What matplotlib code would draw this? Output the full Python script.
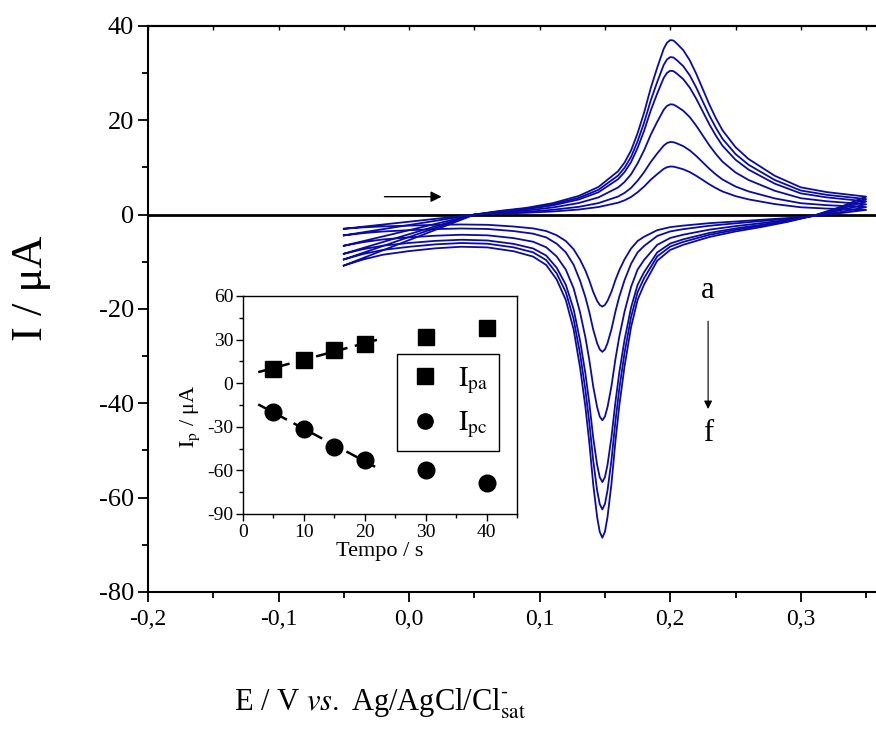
import numpy as np
import matplotlib
matplotlib.use('Agg')
import matplotlib.pyplot as plt
from matplotlib.ticker import MultipleLocator
from matplotlib.lines import Line2D

plt.rcParams['font.family'] = ['Liberation Serif', 'DejaVu Serif']
plt.rcParams['mathtext.fontset'] = 'stix'
plt.rcParams['axes.unicode_minus'] = False

# potential grids (V) for the anodic (forward) and cathodic (reverse) sweeps
e_fwd = [-0.05, -0.03, -0.01, 0.01, 0.03, 0.05, 0.07, 0.09, 0.11, 0.13, 0.145,
         0.16, 0.165, 0.17, 0.175, 0.18, 0.185, 0.19, 0.195, 0.1975, 0.20, 0.2025, 0.205,
         0.21, 0.215, 0.22, 0.225, 0.23, 0.235, 0.24, 0.25, 0.26, 0.28, 0.30, 0.32, 0.35]
e_rev = [0.35, 0.33, 0.31, 0.29, 0.27, 0.25, 0.23, 0.21, 0.20, 0.19, 0.18, 0.175,
         0.17, 0.165, 0.161, 0.158, 0.155, 0.152, 0.150, 0.148, 0.146, 0.144,
         0.141, 0.138, 0.135, 0.131, 0.126, 0.12, 0.113, 0.105, 0.095, 0.08,
         0.06, 0.04, 0.02, 0.0, -0.02, -0.035, -0.05]

# current (uA), curves a..f
i_fwd_a = [-3.0, -2.4, -1.8, -1.2, -0.6, 0.0, 0.22, 0.39, 0.66, 1.08, 1.61, 2.52, 3.03, 3.74,
           4.75, 5.96, 7.38, 8.58, 9.7, 10.05, 10.2, 10.17, 10.0, 9.61, 9.01, 8.21, 7.32,
           6.41, 5.62, 4.91, 3.92, 3.23, 2.24, 1.56, 1.28, 1.0]
i_fwd_b = [-4.4, -3.52, -2.64, -1.76, -0.88, 0.0, 0.34, 0.6, 1.02, 1.65, 2.44, 3.83, 4.6, 5.67,
           7.19, 9.01, 11.13, 12.96, 14.63, 15.17, 15.4, 15.35, 15.11, 14.51, 13.61, 12.41,
           11.06, 9.7, 8.5, 7.45, 5.96, 4.92, 3.44, 2.42, 2.0, 1.6]
i_fwd_c = [-6.6, -5.28, -3.96, -2.64, -1.32, 0.0, 0.5, 0.89, 1.51, 2.46, 3.65, 5.75, 6.92, 8.55,
           10.87, 13.65, 16.89, 19.67, 22.23, 23.04, 23.39, 23.32, 22.94, 22.02, 20.65,
           18.81, 16.74, 14.67, 12.83, 11.23, 8.94, 7.34, 5.06, 3.48, 2.83, 2.2]
i_fwd_d = [-8.3, -6.64, -4.98, -3.32, -1.66, 0.0, 0.65, 1.15, 1.95, 3.21, 4.74, 7.5, 9.01, 11.13,
           14.16, 17.79, 22.02, 25.66, 28.98, 30.05, 30.5, 30.41, 29.91, 28.71, 26.91,
           24.52, 21.82, 19.11, 16.71, 14.61, 11.63, 9.54, 6.57, 4.5, 3.65, 2.81]
i_fwd_e = [-9.5, -7.6, -5.7, -3.8, -1.9, 0.0, 0.73, 1.28, 2.17, 3.56, 5.26, 8.27, 9.92, 12.24,
           15.55, 19.51, 24.14, 28.11, 31.74, 32.9, 33.4, 33.31, 32.76, 31.46, 29.5, 26.89,
           23.94, 21.0, 18.39, 16.09, 12.84, 10.57, 7.35, 5.11, 4.19, 3.3]
i_fwd_f = [-10.8, -8.64, -6.48, -4.32, -2.16, 0.0, 0.81, 1.44, 2.43, 3.97, 5.86, 9.19, 11.03,
           13.6, 17.26, 21.64, 26.76, 31.14, 35.16, 36.44, 37.0, 36.9, 36.29, 34.86, 32.69,
           29.81, 26.56, 23.31, 20.42, 17.89, 14.3, 11.79, 8.24, 5.78, 4.77, 3.81]

i_rev_a = [1.0, 0.3, -0.3, -0.73, -1.09, -1.46, -1.81, -2.33, -2.65, -3.3, -4.69, -5.59, -7.19,
           -9.48, -11.77, -13.88, -16.33, -18.26, -19.14, -19.5, -19.15, -18.29, -16.38,
           -13.95, -11.85, -9.59, -7.34, -5.59, -4.37, -3.48, -2.92, -2.52, -2.16, -2.09,
           -2.17, -2.33, -2.5, -2.7, -3.0]
i_rev_b = [1.6, 0.53, -0.28, -0.88, -1.36, -1.85, -2.36, -3.08, -3.56, -4.53, -6.64, -8.0,
           -10.42, -13.9, -17.37, -20.57, -24.3, -27.22, -28.56, -29.1, -28.57, -27.26,
           -24.36, -20.65, -17.48, -14.05, -10.63, -7.99, -6.16, -4.83, -4.04, -3.49, -3.04,
           -2.94, -3.07, -3.3, -3.58, -3.92, -4.4]
i_rev_c = [2.2, 0.9, -0.25, -1.1, -1.8, -2.44, -3.19, -4.25, -4.95, -6.41, -9.6, -11.65,
           -15.32, -20.58, -25.84, -30.68, -36.33, -40.76, -42.79, -43.6, -42.81, -40.81,
           -36.41, -30.8, -26.0, -20.8, -15.62, -11.64, -8.87, -6.92, -5.75, -4.98, -4.39,
           -4.27, -4.47, -4.82, -5.26, -5.83, -6.6]
i_rev_d = [2.8, 1.18, -0.23, -1.29, -2.14, -2.93, -3.88, -5.23, -6.12, -8.02, -12.19, -14.88,
           -19.68, -26.57, -33.45, -39.8, -47.17, -52.99, -55.64, -56.7, -55.66, -53.05,
           -47.27, -39.93, -33.65, -26.84, -20.05, -14.85, -11.24, -8.68, -7.18, -6.2, -5.48,
           -5.33, -5.57, -6.01, -6.58, -7.32, -8.3]
i_rev_e = [3.3, 1.38, -0.22, -1.4, -2.37, -3.23, -4.28, -5.78, -6.77, -8.86, -13.46, -16.43,
           -21.72, -29.3, -36.89, -43.87, -52.01, -58.41, -61.33, -62.5, -61.36, -58.47,
           -52.12, -44.03, -37.11, -29.61, -22.14, -16.41, -12.45, -9.64, -8.0, -6.94, -6.17,
           -6.02, -6.31, -6.82, -7.48, -8.34, -9.5]
i_rev_f = [3.8, 1.6, -0.2, -1.53, -2.62, -3.57, -4.74, -6.39, -7.48, -9.77, -14.81, -18.06,
           -23.85, -32.16, -40.46, -48.11, -57.02, -64.03, -67.22, -68.5, -67.25, -64.1,
           -57.14, -48.28, -40.71, -32.51, -24.33, -18.07, -13.74, -10.68, -8.9, -7.76, -6.95,
           -6.81, -7.15, -7.73, -8.5, -9.5, -10.8]

fwd = [i_fwd_a, i_fwd_b, i_fwd_c, i_fwd_d, i_fwd_e, i_fwd_f]
rev = [i_rev_a, i_rev_b, i_rev_c, i_rev_d, i_rev_e, i_rev_f]

# inset: peak currents vs time
tempo = [5, 10, 15, 20, 30, 40]
ipa = [10.0, 16.2, 23.0, 26.7, 32.0, 37.7]
ipc = [-19.8, -31.4, -43.7, -53.0, -60.0, -68.7]

xtick_vals = [-0.2, -0.1, 0.0, 0.1, 0.2, 0.3]
xtick_labels = ['-0,2', '-0,1', '0,0', '0,1', '0,2', '0,3']
ytick_vals = [-80, -60, -40, -20, 0, 20, 40]

blue = '#0a0aa5'

fig = plt.figure(figsize=(8.76, 7.31), dpi=100)
ax = fig.add_axes([0.1689, 0.1902, 0.8347, 0.7743])
ax.axhline(0, color='k', lw=2.0, zorder=1)
for f_, r_ in zip(fwd, rev):
    ax.plot(e_fwd + e_rev, f_ + r_, color=blue, lw=1.3, zorder=2)

ax.set_xlim(-0.2, 0.36)
ax.set_ylim(-80, 40)
ax.spines['right'].set_visible(False)
for s in ['left', 'bottom', 'top']:
    ax.spines[s].set_linewidth(1.5)
ax.set_xticks(xtick_vals)
ax.set_xticklabels(xtick_labels)
ax.xaxis.set_minor_locator(MultipleLocator(0.05))
ax.set_yticks(ytick_vals)
ax.yaxis.set_minor_locator(MultipleLocator(10))
ax.tick_params(which='major', direction='out', length=7, width=1.3, labelsize=19, pad=3)
ax.tick_params(which='minor', direction='out', length=4, width=1.3)
ax.tick_params(axis='x', labelsize=17, pad=5)
top = ax.secondary_xaxis('top')
top.xaxis.set_major_locator(MultipleLocator(0.1))
top.xaxis.set_minor_locator(MultipleLocator(0.05))
top.tick_params(which='both', direction='in', length=3, width=1, labeltop=False)
top.spines['top'].set_linewidth(1.5)

ax.set_ylabel('I / μA', fontsize=32)
ax.yaxis.set_label_coords(-0.132, 0.537)
fig.text(0.434, 0.028, 'E / V $\\mathit{vs.}$ Ag/AgCl/Cl$^{\u2010}_{\\mathrm{sat}}$',
         fontsize=22, ha='center', va='baseline')

ax.annotate('', xy=(0.027, 3.8), xytext=(-0.021, 3.8),
            arrowprops=dict(arrowstyle='-|>', color='k', lw=1.0, mutation_scale=16))
ax.annotate('', xy=(0.229, -41.8), xytext=(0.229, -22),
            arrowprops=dict(arrowstyle='-|>', color='k', lw=0.8, mutation_scale=12))
ax.text(0.229, -16, 'a', fontsize=22, ha='center', va='center')
ax.text(0.229, -46.5, 'f', fontsize=22, ha='center', va='center')

# inset
ins = fig.add_axes([0.2774, 0.2969, 0.3128, 0.2982])
k1 = np.polyfit(tempo[:4], ipa[:4], 1)
k2 = np.polyfit(tempo[:4], ipc[:4], 1)
tt = np.array([2.5, 22])
ins.plot(tt, np.polyval(k1, tt), color='k', lw=1.8, dashes=(5, 3))
ins.plot(tt, np.polyval(k2, tt), color='k', lw=1.8, dashes=(5, 3))
ins.plot(tempo, ipa, 's', color='k', ms=12, ls='none')
ins.plot(tempo, ipc, 'o', color='k', ms=12, ls='none')
ins.set_xlim(0, 45)
ins.set_ylim(-90, 60)
ins.set_xticks([0, 10, 20, 30, 40])
ins.set_yticks([-90, -60, -30, 0, 30, 60])
ins.xaxis.set_minor_locator(MultipleLocator(5))
ins.yaxis.set_minor_locator(MultipleLocator(15))
ins.tick_params(which='major', direction='out', length=5, width=1, labelsize=14, pad=2)
ins.tick_params(which='minor', direction='out', length=3, width=1)
for s in ins.spines.values():
    s.set_linewidth(1.0)
ins.set_xlabel('Tempo / s', fontsize=16, labelpad=1)
ins.set_ylabel(r'$\mathrm{I_p}$ / μA', fontsize=16)
ins.yaxis.set_label_coords(-0.15, 0.45)
handles = [Line2D([], [], marker='s', color='k', ls='none', ms=11),
           Line2D([], [], marker='o', color='k', ls='none', ms=11)]
leg = ins.legend(handles, [r'$\mathrm{I_{pa}}$', r'$\mathrm{I_{pc}}$'], loc='upper left',
                 bbox_to_anchor=(0.562, 0.734), fontsize=20, frameon=True, fancybox=False,
                 edgecolor='k', framealpha=1, handletextpad=0.6, borderpad=0.4,
                 labelspacing=0.5, handlelength=1.2, borderaxespad=0)
leg.get_frame().set_linewidth(1.0)

fig.savefig('out.png', dpi=100)
